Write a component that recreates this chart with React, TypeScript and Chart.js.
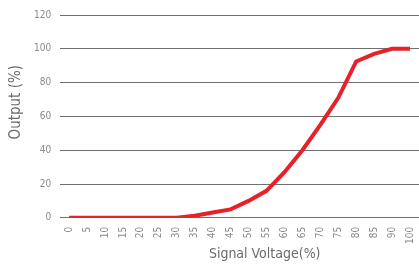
import React, { useEffect, useRef } from "react";
import { Chart, registerables } from "chart.js";

Chart.register(...registerables);

const categories = ["0", "5", "10", "15", "20", "25", "30", "35", "40", "45", "50", "55", "60", "65", "70", "75", "80", "85", "90", "100"];
const outputValues = [0, 0, 0, 0, 0, 0, 0, 1.2, 3.2, 5, 10, 16, 27, 40, 55, 71, 92.5, 97, 100, 100];
const yTicks = [0, 20, 40, 60, 80, 100, 120];
const xTitle = "Signal Voltage(%)";
const yTitle = "Output (%)";

const FONT = "'Liberation Sans Narrow', 'DejaVu Sans Condensed', sans-serif";

const titlePlugin = {
  id: "axisTitles",
  afterDraw(chart: any) {
    const ctx = chart.ctx;
    const area = chart.chartArea;
    ctx.save();
    ctx.fillStyle = "#6a6a6a";
    ctx.font = `14px ${FONT}`;
    ctx.textAlign = "center";
    ctx.textBaseline = "middle";
    ctx.fillText(xTitle, area.left + (area.right - area.left) * 0.57, 254);
    ctx.translate(16, area.top + (area.bottom - area.top) * 0.43);
    ctx.rotate(-Math.PI / 2);
    ctx.font = `15px ${FONT}`;
    ctx.fillText(yTitle, 0, 0);
    ctx.restore();
  },
};

export default function App() {
  const ref = useRef<HTMLCanvasElement>(null);
  useEffect(() => {
    document.body.style.margin = "0";
    const chart = new Chart(ref.current!, {
      type: "line",
      data: {
        labels: categories,
        datasets: [
          {
            data: outputValues,
            borderColor: "#e8202a",
            borderWidth: 4,
            pointRadius: 0,
            tension: 0,
            fill: false,
          },
        ],
      },
      options: {
        animation: false,
        responsive: false,
        layout: { padding: { left: 25, right: 0, top: 8, bottom: 23 } },
        plugins: { legend: { display: false }, tooltip: { enabled: false } },
        scales: {
          x: {
            offset: true,
            afterFit: (scale: any) => {
              scale.paddingRight = 0;
              scale.paddingLeft = 0;
            },
            grid: { display: false },
            border: { display: false },
            ticks: {
              minRotation: 90,
              maxRotation: 90,
              autoSkip: false,
              padding: 1,
              color: "#8a8a8a",
              font: { family: FONT, size: 10 },
            },
          },
          y: {
            min: 0,
            max: 120,
            afterBuildTicks: (axis: any) => {
              axis.ticks = yTicks.map((v) => ({ value: v }));
            },
            grid: { color: "#707070", lineWidth: 1, drawTicks: false },
            border: { display: false },
            ticks: {
              padding: 9,
              color: "#8a8a8a",
              font: { family: FONT, size: 10 },
            },
          },
        },
      },
      plugins: [titlePlugin],
    });
    return () => chart.destroy();
  }, []);
  return <canvas ref={ref} width={419} height={268} style={{ display: "block" }} />;
}
